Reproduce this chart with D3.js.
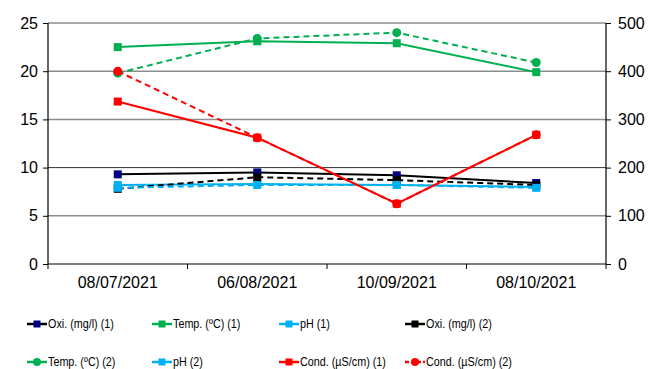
<!DOCTYPE html>
<html>
<head>
<meta charset="utf-8">
<script src="https://cdn.jsdelivr.net/npm/d3@7"></script>
<style>
  body { margin: 0; background: #fff; }
  svg { display: block; font-family: "Liberation Sans", Arial, sans-serif; }
</style>
</head>
<body>
<svg id="chart" width="651" height="369"></svg>
<script>
// data
const dates = ["08/07/2021", "06/08/2021", "10/09/2021", "08/10/2021"];
const oxi1 = [9.3, 9.5, 9.2, 8.4];
const temp1 = [22.5, 23.1, 22.9, 19.9];
const ph1 = [8.2, 8.3, 8.2, 8.0];
const oxi2 = [7.8, 9.0, 8.7, 8.2];
const temp2 = [19.8, 23.4, 24.0, 20.9];
const ph2 = [7.9, 8.2, 8.2, 7.9];
const cond1 = [337, 262, 125, 268];
const cond2 = [400, 262, 125, 268];
const leftTicks = [0, 5, 10, 15, 20, 25];
const rightTicks = [0, 100, 200, 300, 400, 500];

const series = [
    { name: "Oxi. (mg/l) (1)", values: oxi1, color: "#000080", line: "#000", marker: "square", dash: null, axis: "left" },
    { name: "Temp. (ºC) (1)", values: temp1, color: "#00B050", marker: "square", dash: null, axis: "left" },
    { name: "pH (1)", values: ph1, color: "#00B0F0", marker: "square", dash: null, axis: "left" },
    { name: "Oxi. (mg/l) (2)", values: oxi2, color: "#000000", marker: "square", dash: "6,4", axis: "left" },
    { name: "Temp. (ºC) (2)", values: temp2, color: "#00B050", marker: "circle", dash: "6,4", axis: "left" },
    { name: "pH (2)", values: ph2, color: "#00B0F0", marker: "square", dash: "6,4", axis: "left" },
    { name: "Cond. (µS/cm) (1)", values: cond1, color: "#FF0000", marker: "square", dash: null, axis: "right" },
    { name: "Cond. (µS/cm) (2)", values: cond2, color: "#FF0000", marker: "circle", dash: "6,4", axis: "right" }
];

const svg = d3.select("#chart");
const plotL = 48, plotR = 606, plotT = 23, plotB = 264;

const x = d3.scaleBand().domain(dates).range([plotL, plotR]);
const yL = d3.scaleLinear().domain([0, 25]).range([plotB, plotT]);
const yR = d3.scaleLinear().domain([0, 500]).range([plotB, plotT]);

// gridlines
svg.append("g").selectAll("line")
    .data(leftTicks.filter(d => d > 0))
    .join("line")
    .attr("x1", plotL).attr("x2", plotR)
    .attr("y1", d => yL(d)).attr("y2", d => yL(d))
    .attr("stroke", d => d === 10 ? "#333" : "#8c8c8c")
    .attr("stroke-width", d => d === 10 ? 1 : 1.5);

// axes
const axL = svg.append("g").attr("transform", `translate(${plotL},0)`)
    .call(d3.axisLeft(yL).tickValues(leftTicks).tickSize(5).tickPadding(5));
const axR = svg.append("g").attr("transform", `translate(${plotR},0)`)
    .call(d3.axisRight(yR).tickValues(rightTicks).tickSize(5).tickPadding(7));
const axB = svg.append("g").attr("transform", `translate(0,${plotB})`)
    .call(d3.axisBottom(x).tickSize(0).tickPadding(13));

// category boundary ticks on x axis
svg.append("g").selectAll("line")
    .data(dates.concat(["end"]))
    .join("line")
    .attr("x1", (d, i) => plotL + i * x.step()).attr("x2", (d, i) => plotL + i * x.step())
    .attr("y1", plotB).attr("y2", plotB + 5)
    .attr("stroke", "#000");

[axL, axR, axB].forEach(a => {
    a.selectAll("path").attr("stroke", "#000").attr("stroke-width", 1.2);
    a.selectAll(".tick line").attr("stroke", "#000");
    a.selectAll("text").attr("fill", "#000").style("font-size", "16px")
        .style("font-family", "'Liberation Sans', Arial, sans-serif");
});
axL.select(".domain").attr("d", `M0,${plotT}V${plotB}`);
axR.select(".domain").attr("d", `M0,${plotT}V${plotB}`);
axB.select(".domain").attr("d", `M${plotL},0H${plotR}`);

// series
const cx = d => x(d) + x.bandwidth() / 2;

function drawMarker(g, mx, my, s, size) {
    if (s.marker === "circle") {
        g.append("circle").attr("cx", mx).attr("cy", my).attr("r", size / 2 + 0.5)
            .attr("fill", s.color);
    } else {
        g.append("rect").attr("x", mx - size / 2).attr("y", my - size / 2)
            .attr("width", size).attr("height", size)
            .attr("fill", s.color);
    }
}

series.forEach(s => {
    const ys = s.axis === "left" ? yL : yR;
    const line = d3.line().x((d, i) => cx(dates[i])).y(d => ys(d));
    const g = svg.append("g");
    g.append("path")
        .attr("d", line(s.values))
        .attr("fill", "none")
        .attr("stroke", s.line || s.color)
        .attr("stroke-width", 2)
        .attr("stroke-dasharray", s.dash);
    s.values.forEach((v, i) => drawMarker(g, cx(dates[i]), ys(v), s, 8));
});

// legend
const legX = [27, 152, 279, 405];
const legY = [324, 362];
series.forEach((s, i) => {
    const lx = legX[i % 4], ly = legY[Math.floor(i / 4)];
    const g = svg.append("g");
    g.append("line").attr("x1", lx).attr("x2", lx + 20)
        .attr("y1", ly).attr("y2", ly)
        .attr("stroke", s.line || s.color).attr("stroke-width", 2.5)
        .attr("stroke-dasharray", i === 7 ? "4,2" : null);
    drawMarker(g, lx + 10, ly, s, 7);
    g.append("text").attr("transform", `translate(${lx + 21},${ly + 4}) scale(0.83,1)`)
        .style("font-size", "13px").attr("fill", "#000")
        .text(s.name);
});
</script>
</body>
</html>
